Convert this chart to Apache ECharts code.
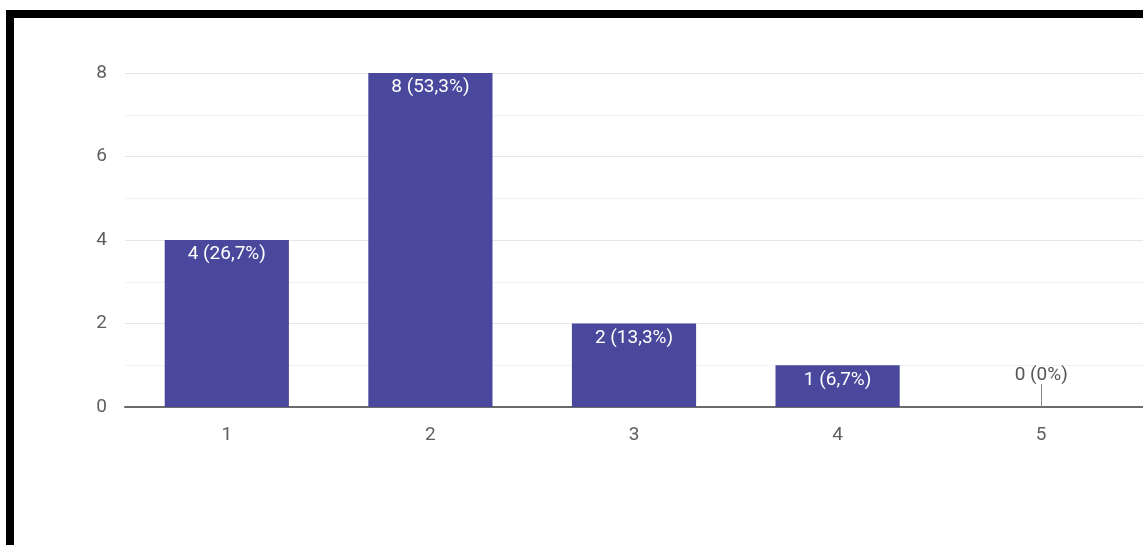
<!DOCTYPE html>
<html>
<head>
<meta charset="utf-8">
<script src="https://cdn.jsdelivr.net/npm/echarts@6/dist/echarts.min.js"></script>
<style>
  html, body { margin: 0; padding: 0; background: #fff; }
  #chart { position: absolute; left: 0; top: 0; width: 1143px; height: 545px; }
  #frame { position: absolute; left: 6px; top: 10px; width: 1137px; height: 535px;
           border-top: 8px solid #000; border-left: 8px solid #000; box-sizing: border-box; pointer-events: none; }
</style>
</head>
<body>
<div id="chart"></div>
<div id="frame"></div>
<script>
const categories = ['1', '2', '3', '4', '5'];
const counts = [4, 8, 2, 1, 0];
const percents = ['26,7%', '53,3%', '13,3%', '6,7%', '0%'];
const yTicks = [0, 2, 4, 6, 8];

const chart = echarts.init(document.getElementById('chart'));

const seriesData = counts.map((v, i) => {
  const item = { value: v };
  if (v === 0) {
    item.label = { position: 'top', color: '#555', distance: 22 };
  }
  return item;
});

chart.setOption({
  animation: false,
  textStyle: { fontFamily: 'Roboto, Arial, sans-serif' },
  grid: { left: 125, right: -8, top: 73, height: 334 },
  xAxis: {
    type: 'category',
    data: categories,
    axisTick: { show: false },
    axisLine: { lineStyle: { color: '#6b6b6b', width: 2 } },
    axisLabel: { color: '#5f5f5f', fontSize: 19, margin: 19 },
    splitLine: { show: false }
  },
  yAxis: {
    type: 'value',
    min: 0,
    max: 8,
    interval: 1,
    axisLine: { show: false },
    axisTick: { show: false },
    axisLabel: {
      color: '#5f5f5f', fontSize: 19, margin: 18,
      formatter: v => yTicks.includes(v) ? String(v) : ''
    },
    splitLine: { lineStyle: { color: ['#e6e6e6', '#f1f1f1'], width: 1 } }
  },
  series: [{
    type: 'bar',
    data: seriesData,
    barWidth: '61%',
    itemStyle: { color: '#4a489c' },
    label: {
      show: true,
      position: 'insideTop',
      distance: 5,
      color: '#fff',
      fontSize: 19,
      formatter: p => counts[p.dataIndex] + ' (' + percents[p.dataIndex] + ')'
    },
    markLine: {
      silent: true,
      symbol: 'none',
      label: { show: false },
      lineStyle: { color: '#888', width: 1, type: 'solid' },
      data: [[{ xAxis: '5', yAxis: 0 }, { xAxis: '5', yAxis: 0.55 }]]
    }
  }]
});
</script>
</body>
</html>
